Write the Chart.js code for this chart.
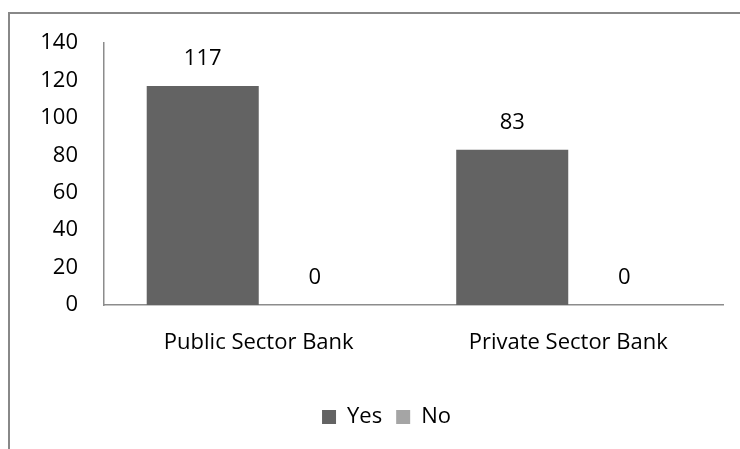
<!DOCTYPE html>
<html>
<head>
<meta charset="utf-8">
<script src="https://cdn.jsdelivr.net/npm/chart.js@4"></script>
<style>
  html, body { margin: 0; padding: 0; background: #fff; }
  #wrap { position: relative; width: 740px; height: 449px; overflow: hidden; }
  #frame { position: absolute; left: 8px; top: 12px; width: 800px; height: 500px; border: 2px solid #888; box-sizing: border-box; }
  canvas { position: absolute; left: 0; top: 0; }
</style>
</head>
<body>
<div id="wrap">
  <div id="frame"></div>
  <canvas id="c" width="740" height="449"></canvas>
</div>
<script>
const categories = ["Public Sector Bank", "Private Sector Bank"];
const seriesNames = ["Yes", "No"];
const yesValues = [117, 83];
const noValues = [0, 0];
const yTicks = [0, 20, 40, 60, 80, 100, 120, 140];

const FONT = "'Open Sans', sans-serif";
const FS = 22;

const valueLabels = {
  id: 'valueLabels',
  afterDatasetsDraw(chart) {
    const ctx = chart.ctx;
    ctx.save();
    ctx.font = FS + "px " + FONT;
    ctx.fillStyle = '#000';
    ctx.textAlign = 'center';
    ctx.textBaseline = 'middle';
    chart.data.datasets.forEach((ds, i) => {
      const meta = chart.getDatasetMeta(i);
      meta.data.forEach((el, j) => {
        ctx.fillText(String(ds.data[j]), el.x, el.y - 27);
      });
    });
    ctx.restore();
  }
};

const legendShift = {
  id: 'legendShift',
  afterLayout(chart) {
    const lg = chart.legend;
    if (lg) { lg.left = 50; lg.right = chart.chartArea.right; }
  }
};

new Chart(document.getElementById('c'), {
  type: 'bar',
  data: {
    labels: categories,
    datasets: [
      { label: seriesNames[0], data: yesValues, backgroundColor: '#636363', categoryPercentage: 0.724, barPercentage: 1 },
      { label: seriesNames[1], data: noValues, backgroundColor: '#a5a5a5', categoryPercentage: 0.724, barPercentage: 1 }
    ]
  },
  options: {
    responsive: false,
    animation: false,
    devicePixelRatio: 1,
    layout: { padding: { top: 43, right: 17, left: 0, bottom: 11 } },
    plugins: {
      legend: {
        position: 'bottom',
        labels: { boxWidth: 14, boxHeight: 14, padding: 14, color: '#000', font: { family: FONT, size: FS } }
      },
      tooltip: { enabled: false }
    },
    scales: {
      x: {
        grid: { display: false, drawTicks: false },
        border: { display: true, color: '#8c8c8c', width: 1.5 },
        ticks: { color: '#000', padding: 25, font: { family: FONT, size: FS } },
        afterFit(s) { s.height = 87; }
      },
      y: {
        min: 0, max: 140,
        afterBuildTicks(s) { s.ticks = yTicks.map(v => ({ value: v })); },
        grid: { display: false, drawTicks: false },
        border: { display: true, color: '#8c8c8c', width: 1.5 },
        ticks: { color: '#000', padding: 26, font: { family: FONT, size: FS } },
        afterFit(s) { s.width = 104; }
      }
    }
  },
  plugins: [valueLabels, legendShift]
});
</script>
</body>
</html>
